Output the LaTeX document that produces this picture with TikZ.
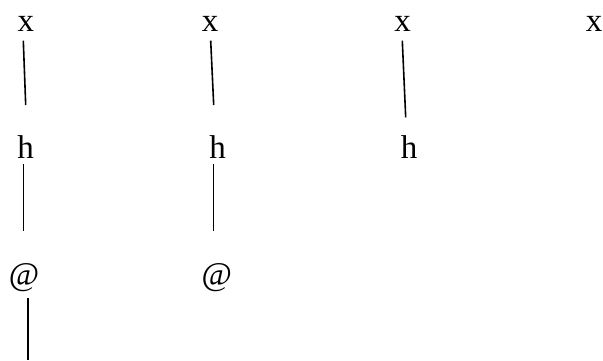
\documentclass[tikz,border=0pt]{standalone}
\usepackage{fontspec}
\setmainfont{Liberation Serif}
\begin{document}
\begin{tikzpicture}[x=1pt,y=-1pt,
  lbl/.style={inner sep=0pt,anchor=base,font=\fontsize{33}{38}\selectfont},
  edge/.style={line width=1.6pt}]
\useasboundingbox (0,0) rectangle (603,360);
\node[lbl] (x1) at (25.8,31.7) {x};
\node[lbl] (x2) at (210,31.7) {x};
\node[lbl] (x3) at (402.5,31.7) {x};
\node[lbl] (x4) at (594,31.7) {x};
\node[lbl] (h1) at (25.5,158.3) {h};
\node[lbl] (h2) at (217.5,158.3) {h};
\node[lbl] (h3) at (409,158.3) {h};
\node[lbl] (a1) at (24,285) {@};
\node[lbl] (a2) at (216.7,285) {@};
% connector end points
\coordinate (x1s) at (23.3,40.7);  \coordinate (h1n) at (25.7,105);
\coordinate (x2s) at (210.7,40.7); \coordinate (h2n) at (213.7,105);
\coordinate (x3s) at (402.3,40.7); \coordinate (h3n) at (405.7,117.3);
\coordinate (h1s) at (23.3,164);   \coordinate (a1n) at (23.3,230.7);
\coordinate (h2s) at (213.3,164);  \coordinate (a2n) at (213.3,230.7);
\coordinate (a1s) at (27.7,298.3); \coordinate (tail) at (27.7,360);
\draw[edge] (x1s) -- (h1n);
\draw[edge] (x2s) -- (h2n);
\draw[edge] (x3s) -- (h3n);
\draw[edge] (h1s) -- (a1n);
\draw[edge] (h2s) -- (a2n);
\draw[edge] (a1s) -- (tail);
\end{tikzpicture}
\end{document}
